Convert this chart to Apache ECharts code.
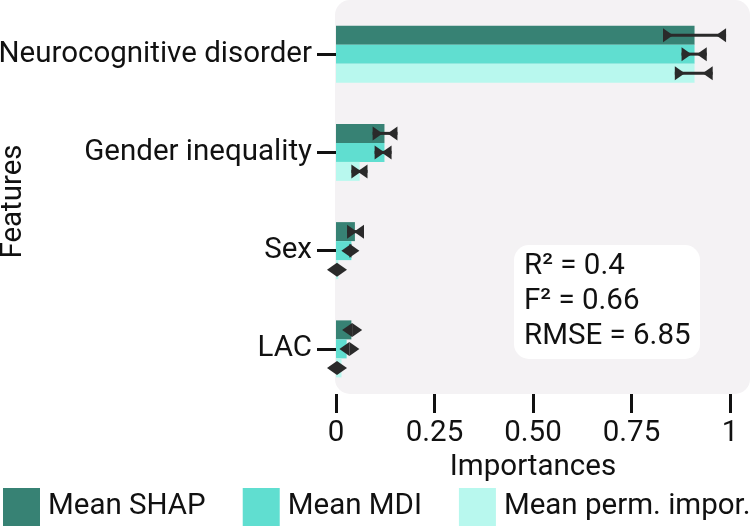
<!DOCTYPE html>
<html>
<head>
<meta charset="utf-8">
<script src="https://cdn.jsdelivr.net/npm/echarts@6/dist/echarts.min.js"></script>
<style>
html,body{margin:0;padding:0;background:#fff;}
#chart{width:750px;height:528px;}
</style>
</head>
<body>
<div id="chart"></div>
<script>
const categories = ['Neurocognitive disorder', 'Gender inequality', 'Sex', 'LAC'];
const seriesNames = ['Mean SHAP', 'Mean MDI', 'Mean perm. impor.'];
const shapValues = [0.91, 0.123, 0.048, 0.039];
const mdiValues = [0.91, 0.123, 0.039, 0.027];
const permValues = [0.91, 0.060, 0.006, 0.014];
const shapErrLow = [0.830, 0.093, 0.028, 0.041];
const shapErrHigh = [0.990, 0.156, 0.071, 0.041];
const mdiErrLow = [0.877, 0.098, 0.034, 0.034];
const mdiErrHigh = [0.941, 0.141, 0.039, 0.034];
const permErrLow = [0.860, 0.039, 0.0025, 0.0025];
const permErrHigh = [0.956, 0.080, 0.0025, 0.0025];
const xTickLabels = ['0', '0.25', '0.50', '0.75', '1'];
const statsLines = ['R² = 0.4', 'F² = 0.66', 'RMSE = 6.85'];

const colors = ['#378274', '#60ded0', '#b8f8ee'];
const FONT = 'Roboto';
const FS = 29.5;
const BAR_W = 19;

function errData(lo, hi) {
  return lo.map((l, i) => [l, hi[i], i]);
}
function errSeries(name, lo, hi, offset) {
  return {
    type: 'custom',
    name: name,
    z: 5,
    encode: { x: [0, 1], y: 2 },
    data: errData(lo, hi),
    renderItem: function (params, api) {
      const a = api.coord([api.value(0), api.value(2)]);
      const b = api.coord([api.value(1), api.value(2)]);
      const y = a[1] + offset;
      const w = 10, h = 14;
      const c = '#2a2a2a';
      return {
        type: 'group',
        children: [
          { type: 'line', shape: { x1: a[0], y1: y, x2: b[0], y2: y }, style: { stroke: c, lineWidth: 3 } },
          { type: 'polygon', shape: { points: [[a[0], y - h / 2], [a[0] + w, y], [a[0], y + h / 2]] }, style: { fill: c } },
          { type: 'polygon', shape: { points: [[b[0], y - h / 2], [b[0] - w, y], [b[0], y + h / 2]] }, style: { fill: c } }
        ]
      };
    }
  };
}

const chart = echarts.init(document.getElementById('chart'), null, { renderer: 'canvas' });
chart.setOption({
  animation: false,
  textStyle: { fontFamily: FONT },
  graphic: [
    { type: 'rect', z: -10, shape: { x: 335, y: 0, width: 415, height: 394, r: 15 }, style: { fill: '#f4f2f4' } },
    {
      type: 'group', z: 100,
      children: [
        { type: 'rect', shape: { x: 514, y: 245, width: 186, height: 114, r: 15 }, style: { fill: '#ffffff' } },
        { type: 'text', x: 524, y: 249, style: { text: statsLines.join('\n'), font: FS + 'px Roboto', lineHeight: 35, fill: '#111' } }
      ]
    }
  ],
  grid: { left: 336, right: 20, top: 5, height: 393, outerBoundsMode: 'none' },
  legend: {
    data: seriesNames,
    left: 3, top: 488, width: 780, padding: 0, itemWidth: 37, itemHeight: 38, itemGap: 37, icon: 'rect',
    textStyle: { fontSize: FS, fontFamily: FONT, color: '#111', padding: [0, 0, 0, 3] }
  },
  xAxis: {
    type: 'value', min: 0, max: 1, interval: 0.25, offset: -4,
    axisLine: { show: false },
    splitLine: { show: false },
    axisTick: { show: true, length: 19, lineStyle: { width: 3, color: '#111' } },
    axisLabel: { fontSize: FS, color: '#111', margin: 25, formatter: v => xTickLabels[Math.round(v / 0.25)] },
    name: 'Importances', nameLocation: 'middle', nameGap: 59, nameMoveOverlap: false,
    nameTextStyle: { fontSize: FS, color: '#111' }
  },
  yAxis: {
    type: 'category', data: categories, inverse: true,
    axisLine: { show: false },
    axisTick: { show: true, alignWithLabel: true, length: 19, lineStyle: { width: 3, color: '#111' } },
    axisLabel: { fontSize: FS, color: '#111', margin: 24 },
    name: 'Features', nameLocation: 'middle', nameGap: 307, nameRotate: 90, nameMoveOverlap: false,
    nameTextStyle: { fontSize: FS, color: '#111' }
  },
  series: [
    { type: 'bar', name: seriesNames[0], data: shapValues, barWidth: BAR_W, barGap: '0%', itemStyle: { color: colors[0] } },
    { type: 'bar', name: seriesNames[1], data: mdiValues, barWidth: BAR_W, barGap: '0%', itemStyle: { color: colors[1] } },
    { type: 'bar', name: seriesNames[2], data: permValues, barWidth: BAR_W, barGap: '0%', itemStyle: { color: colors[2] } },
    errSeries('err0', shapErrLow, shapErrHigh, -BAR_W),
    errSeries('err1', mdiErrLow, mdiErrHigh, 0),
    errSeries('err2', permErrLow, permErrHigh, BAR_W)
  ]
});
</script>
</body>
</html>
